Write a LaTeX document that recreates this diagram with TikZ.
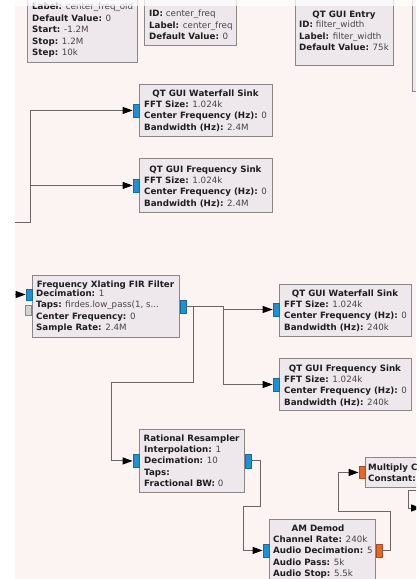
\documentclass[tikz,border=0pt]{standalone}
\usepackage{fontspec}
\setmainfont{DejaVu Sans}
\usetikzlibrary{arrows.meta}
\definecolor{bgpink}{HTML}{FCF3F3}
\definecolor{boxfill}{HTML}{EEE8EC}
\definecolor{boxline}{HTML}{8C8787}
\definecolor{wirecol}{HTML}{6A6666}
\definecolor{portblue}{HTML}{2290CC}
\definecolor{portorange}{HTML}{E0672E}
\definecolor{portgray}{HTML}{D6D2D2}
\definecolor{keytxt}{HTML}{1E1E1E}
\definecolor{valtxt}{HTML}{454545}
\newcommand{\kv}[2]{\textbf{\color{keytxt}#1:} {\color{valtxt}#2}}
\tikzset{
  blk/.style={draw=boxline, fill=boxfill, line width=0.9pt, anchor=north west, inner sep=0pt},
  portb/.style={draw=portblue!75!black, fill=portblue, line width=0.4pt, minimum width=6pt, minimum height=13pt, inner sep=0pt},
  porto/.style={draw=portorange!75!black, fill=portorange, line width=0.4pt, minimum width=6pt, minimum height=13pt, inner sep=0pt},
  portg/.style={draw=boxline, fill=portgray, line width=0.6pt, minimum width=6pt, minimum height=10pt, inner sep=0pt},
  conn/.style={draw=wirecol, line width=1pt, -{Triangle[length=10pt,width=7pt,color=black]}},
  wire/.style={draw=wirecol, line width=1pt},
  ttl/.style={font=\fontsize{8.7}{11.5}\selectfont\bfseries, text=keytxt, inner sep=0pt, anchor=base},
  body/.style={font=\fontsize{8.7}{11.5}\selectfont, inner sep=0pt, anchor=base west, align=left},
}
\begin{document}
\begin{tikzpicture}[x=1pt,y=-1pt]
\useasboundingbox (0,0) rectangle (420,579);
\fill[white] (0,0) rectangle (420,579);
\fill[bgpink] (15,0) rectangle (416,579);
\begin{scope}
\clip (15,0) rectangle (416,579);

% top row (cut off); body nodes are placed by the baseline of their last line
\node[blk, minimum width=110pt, minimum height=72pt] (va) at (27,-10) {};
\node[body] (tva) at (32,55.7) {\kv{Label}{center\_freq\_old}\\ \kv{Default Value}{0}\\ \kv{Start}{-1.2M}\\ \kv{Stop}{1.2M}\\ \kv{Step}{10k}};
\node[blk, minimum width=92pt, minimum height=55pt] (vb) at (144,-10) {};
\node[body] (tvb) at (149,39.7) {\kv{ID}{center\_freq}\\ \kv{Label}{center\_freq}\\ \kv{Default Value}{0}};
\node[blk, minimum width=98pt, minimum height=75pt] (ve) at (295,-10) {};
\node[ttl] (tvet) at (344,17.2) {QT GUI Entry};
\node[body] (tve) at (299,50.7) {\kv{ID}{filter\_width}\\ \kv{Label}{filter\_width}\\ \kv{Default Value}{75k}};
\node[blk, minimum width=40pt, minimum height=101pt] (vr) at (412,-10) {};

% first sinks
\node[blk, minimum width=133pt, minimum height=52pt] (wf1) at (139,84) {};
\node[portb, anchor=east] (wf1i) at (wf1.west) {};
\node[ttl] (twf1) at (205.5,96.2) {QT GUI Waterfall Sink};
\node[body] (bwf1) at (144,130.2) {\kv{FFT Size}{1.024k}\\ \kv{Center Frequency (Hz)}{0}\\ \kv{Bandwidth (Hz)}{2.4M}};

\node[blk, minimum width=133pt, minimum height=54pt] (fs1) at (139,158) {};
\node[portb, anchor=east] (fs1i) at (fs1.west) {};
\node[ttl] (tfs1) at (205.5,172.2) {QT GUI Frequency Sink};
\node[body] (bfs1) at (144,206.2) {\kv{FFT Size}{1.024k}\\ \kv{Center Frequency (Hz)}{0}\\ \kv{Bandwidth (Hz)}{2.4M}};

\coordinate (src0) at (15,222);
\draw[conn] (src0) -- ++(15,0) |- (wf1i.west);
\draw[conn] (src0) -- ++(15,0) |- (fs1i.west);

% Frequency Xlating FIR Filter
\node[blk, minimum width=147pt, minimum height=62pt] (fx) at (32,275) {};
\node[portb, anchor=east, minimum height=11pt] (fxi) at (32,294.5) {};
\node[portg, anchor=east] (fxm) at (32,310) {};
\node[portb, anchor=west] (fxo) at (fx.east) {};
\node[ttl] (tfx) at (105.5,287.2) {Frequency Xlating FIR Filter};
\node[body] (bfx) at (36,330.7) {\kv{Decimation}{1}\\ \kv{Taps}{firdes.low\_pass(1, s...}\\ \kv{Center Frequency}{0}\\ \kv{Sample Rate}{2.4M}};
\coordinate (srcL) at (15,294.5);
\draw[conn] (srcL) -- (fxi.west);

% second sinks
\node[blk, minimum width=132pt, minimum height=52pt] (wf2) at (279,284) {};
\node[portb, anchor=east] (wf2i) at (279,309.5) {};
\node[ttl] (twf2) at (345,296.2) {QT GUI Waterfall Sink};
\node[body] (bwf2) at (284,330.2) {\kv{FFT Size}{1.024k}\\ \kv{Center Frequency (Hz)}{0}\\ \kv{Bandwidth (Hz)}{240k}};

\node[blk, minimum width=132pt, minimum height=52pt] (fs2) at (279,358) {};
\node[portb, anchor=east] (fs2i) at (279,384.5) {};
\node[ttl] (tfs2) at (345,371.2) {QT GUI Frequency Sink};
\node[body] (bfs2) at (284,405.2) {\kv{FFT Size}{1.024k}\\ \kv{Center Frequency (Hz)}{0}\\ \kv{Bandwidth (Hz)}{240k}};

% Rational Resampler
\node[blk, minimum width=105pt, minimum height=63pt] (rr) at (139,429) {};
\node[portb, anchor=east] (rri) at (rr.west) {};
\node[portb, anchor=west, minimum height=14pt] (rro) at (rr.east) {};
\node[ttl] (trr) at (191.5,441.2) {Rational Resampler};
\node[body] (brr) at (144,486.7) {\kv{Interpolation}{1}\\ \kv{Decimation}{10}\\ \textbf{\color{keytxt}Taps:}\\ \kv{Fractional BW}{0}};

% connections from Xlating
\draw[conn] (fxo.east) -- ++(37,0) |- (wf2i.west);
\draw[conn] (fxo.east) -- ++(37,0) |- (fs2i.west);
\draw[conn] (fxo.east) -- ++(7,0) -- ++(0,76.5) -| ([xshift=-21pt]rri.west) -- (rri.west);

% AM Demod
\node[blk, minimum width=106pt, minimum height=62pt] (am) at (269,519) {};
\node[portb, anchor=east] (ami) at (am.west) {};
\node[porto, anchor=west] (amo) at (am.east) {};
\node[ttl] (tam) at (318,531.2) {AM Demod};
\node[body] (bam) at (273,576.7) {\kv{Channel Rate}{240k}\\ \kv{Audio Decimation}{5}\\ \kv{Audio Pass}{5k}\\ \kv{Audio Stop}{5.5k}};
\draw[conn] (rro.east) -- ++(9,0) -- ++(0,46) -| ([xshift=-19pt]ami.west) -- (ami.west);

% Multiply Const
\node[blk, minimum width=80pt, minimum height=30pt] (mc) at (365,457) {};
\node[porto, anchor=east, minimum height=12pt] (mci) at (mc.west) {};
\node[ttl, anchor=base west] (tmc) at (368,470.2) {Multiply Const};
\node[body] (bmc) at (368,481.2) {\textbf{\color{keytxt}Constant:}};
\draw[conn] (amo.east) -- ++(8,0) -- ++(0,-39) -| ([xshift=-20pt]mci.west) -- (mci.west);

% connection leaving / re-entering at right edge
\coordinate (offA) at (420,490);
\coordinate (offB) at (421,508);
\draw[conn] (offA) -- ++(-12,0) |- (offB);
\end{scope}
% faded strip along the top edge
\fill[white, opacity=0.75] (0,0) rectangle (420,6);
\end{tikzpicture}
\end{document}
